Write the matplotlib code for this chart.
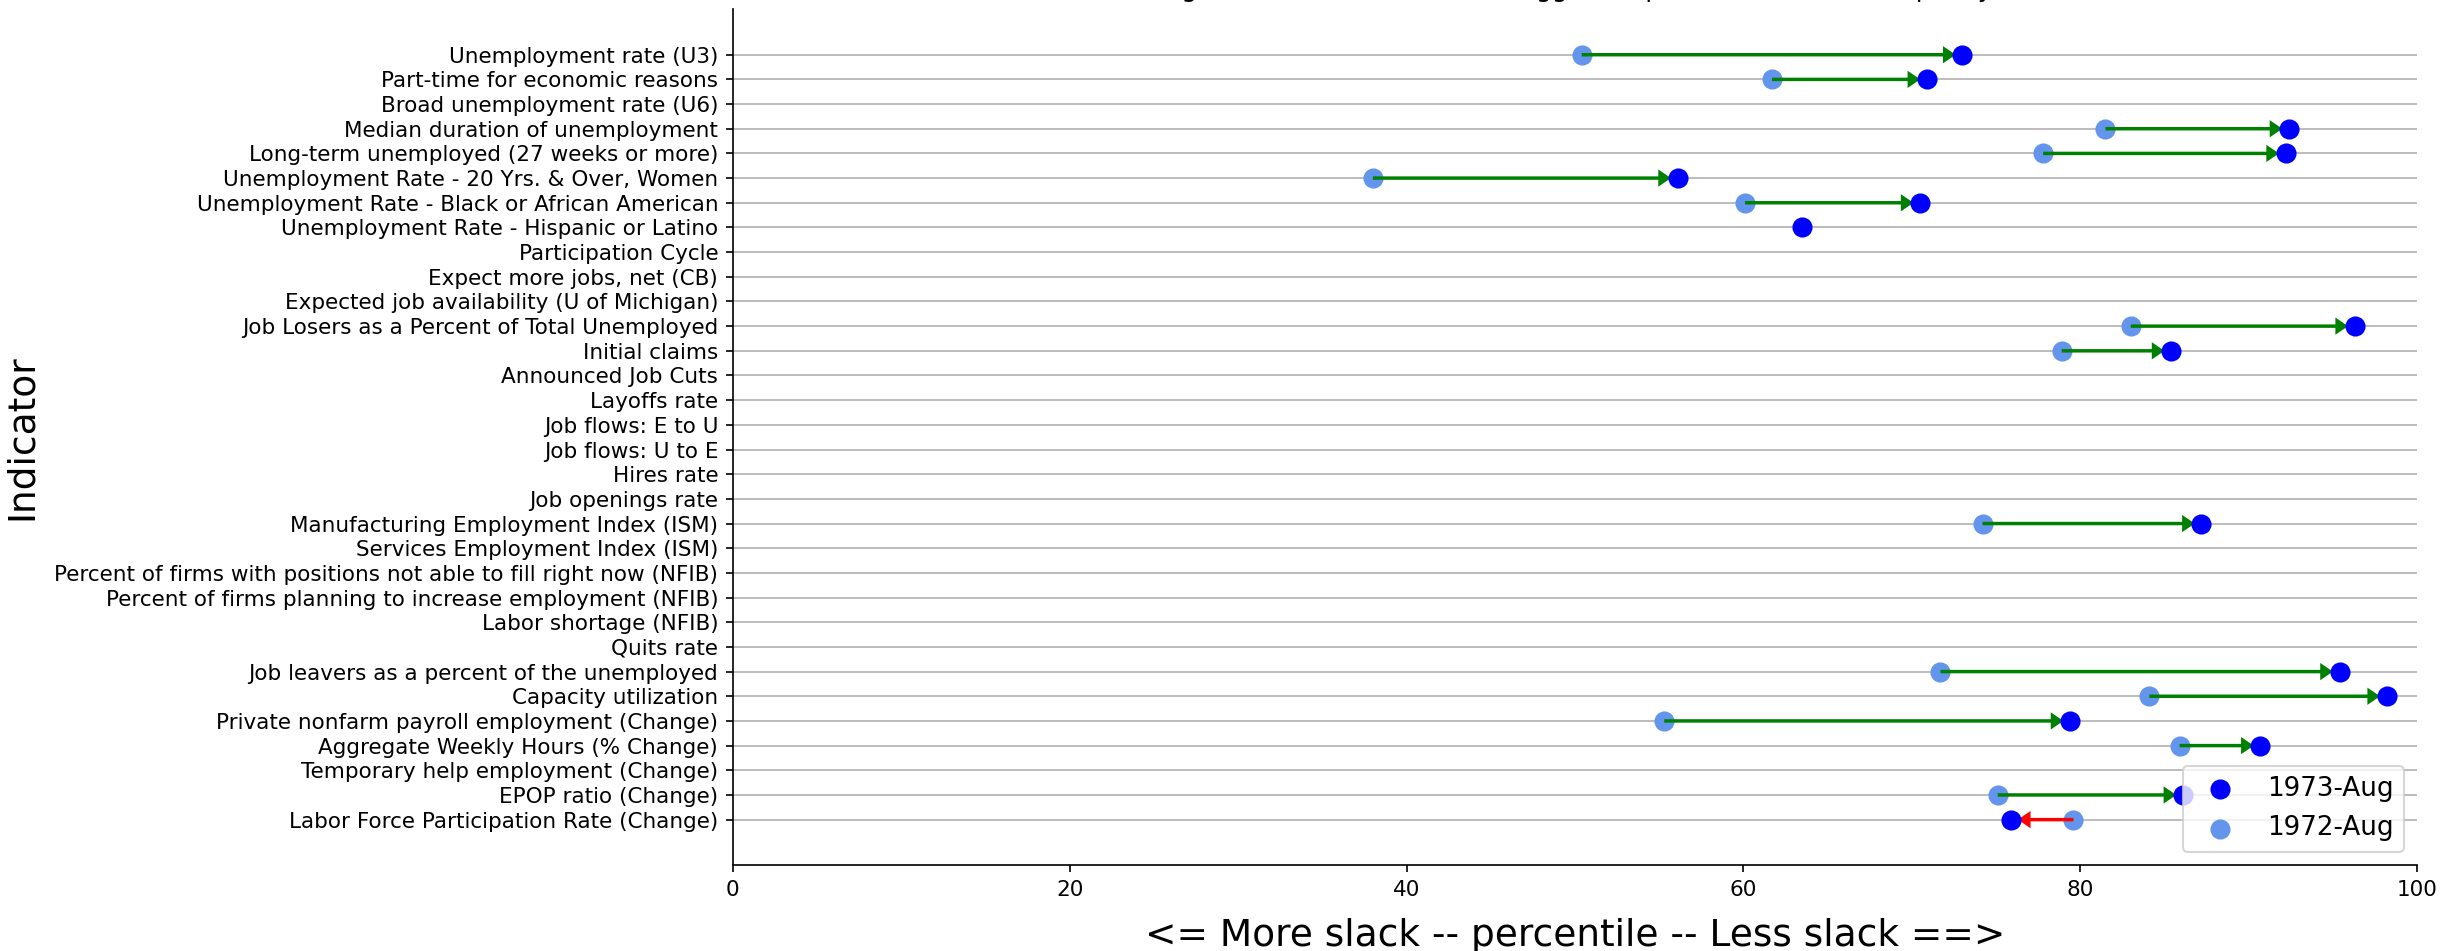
import matplotlib
matplotlib.use("Agg")
import matplotlib.pyplot as plt
import numpy as np

# indicators, top to bottom
indicators = [
    "Unemployment rate (U3)",
    "Part-time for economic reasons",
    "Broad unemployment rate (U6)",
    "Median duration of unemployment",
    "Long-term unemployed (27 weeks or more)",
    "Unemployment Rate - 20 Yrs. & Over, Women",
    "Unemployment Rate - Black or African American",
    "Unemployment Rate - Hispanic or Latino",
    "Participation Cycle",
    "Expect more jobs, net (CB)",
    "Expected job availability (U of Michigan)",
    "Job Losers as a Percent of Total Unemployed",
    "Initial claims",
    "Announced Job Cuts",
    "Layoffs rate",
    "Job flows: E to U",
    "Job flows: U to E",
    "Hires rate",
    "Job openings rate",
    "Manufacturing Employment Index (ISM)",
    "Services Employment Index (ISM)",
    "Percent of firms with positions not able to fill right now (NFIB)",
    "Percent of firms planning to increase employment (NFIB)",
    "Labor shortage (NFIB)",
    "Quits rate",
    "Job leavers as a percent of the unemployed",
    "Capacity utilization",
    "Private nonfarm payroll employment (Change)",
    "Aggregate Weekly Hours (% Change)",
    "Temporary help employment (Change)",
    "EPOP ratio (Change)",
    "Labor Force Participation Rate (Change)",
]

nan = np.nan
# percentile values
pct_1972 = [50.4, 61.7, nan, 81.5, 77.8, 38.0, 60.1, nan, nan, nan, nan, 83.0,
            78.9, nan, nan, nan, nan, nan, nan, 74.2, nan, nan, nan, nan, nan,
            71.7, 84.1, 55.3, 85.9, nan, 75.1, 79.6]
pct_1973 = [73.0, 70.9, nan, 92.4, 92.2, 56.1, 70.5, 63.5, nan, nan, nan, 96.3,
            85.4, nan, nan, nan, nan, nan, nan, 87.2, nan, nan, nan, nan, nan,
            95.4, 98.2, 79.4, 90.7, nan, 86.1, 75.9]

label_new = "1973-Aug"
label_old = "1972-Aug"

fig = plt.figure(figsize=(2441 / 150, 951 / 150), dpi=150)
ax = fig.add_axes([0.3002, 0.0904, 0.6900, 0.8998])

y = np.arange(len(indicators))
old = np.array(pct_1972)
new = np.array(pct_1973)

ax.scatter(new, y, s=75, color="blue", label=label_new, zorder=4)
ax.scatter(old, y, s=75, color="cornflowerblue", label=label_old, zorder=2)

# arrows from previous year to current year
for yi, x0, x1 in zip(y, old, new):
    if np.isnan(x0) or np.isnan(x1):
        continue
    d = x1 - x0
    col = "green" if d > 0 else "red"
    dx = d - np.sign(d) * 0.4
    ax.arrow(x0, yi, dx, 0, width=0.14, head_width=0.7, head_length=0.75,
             length_includes_head=True, color=col, lw=0, zorder=3)

ax.set_yticks(y)
ax.set_yticklabels(indicators, fontsize=10.35)
ax.set_ylim(32.84, -1.84)
ax.set_xlim(0, 100)
ax.set_xticks([0, 20, 40, 60, 80, 100])
ax.tick_params(axis="x", labelsize=10.35)
ax.grid(axis="y", color="#b0b0b0", lw=0.8, zorder=0)
ax.set_axisbelow(True)
ax.spines["top"].set_visible(False)
ax.spines["right"].set_visible(False)

ax.set_xlabel("<= More slack -- percentile -- Less slack ==>", fontsize=18, labelpad=9)
ax.set_ylabel("Indicator", fontsize=18, labelpad=7)
ax.set_title("Changes in labor market slack: biggest improvements over the past year")

ax.legend(loc="lower right", fontsize=12.6)

fig.savefig("out.png", dpi=150)
